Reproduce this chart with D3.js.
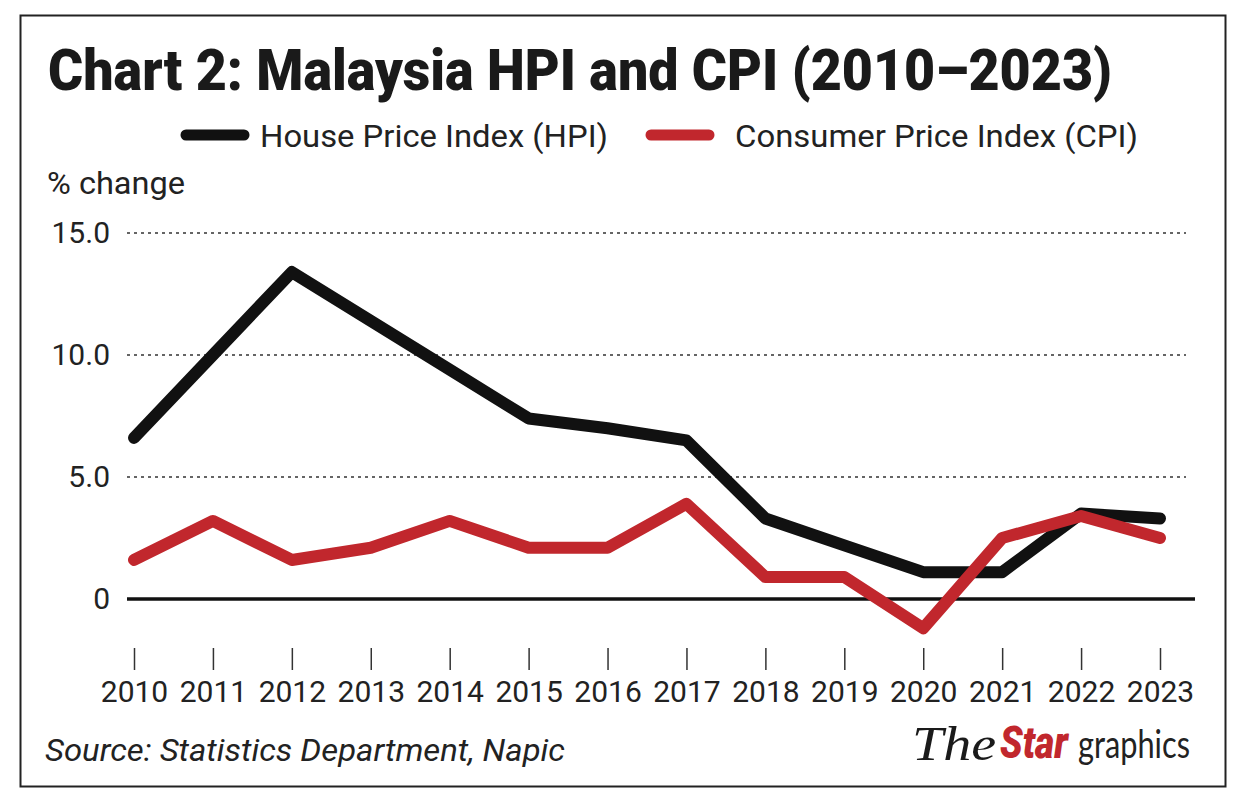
<!DOCTYPE html>
<html>
<head>
<meta charset="utf-8">
<style>
  body { margin: 0; background: #fff; }
  svg { display: block; font-family: Roboto, "Noto Sans", sans-serif; }
  .tick text { fill: #222; }
</style>
<script src="https://d3js.org/d3.v7.min.js"></script>
</head>
<body>
<div id="chart"></div>
<script>
// data (% change)
var years = [2010, 2011, 2012, 2013, 2014, 2015, 2016, 2017, 2018, 2019, 2020, 2021, 2022, 2023];
var hpi = [6.6, 10.0, 13.4, 11.4, 9.4, 7.4, 7.0, 6.5, 3.3, 2.2, 1.1, 1.1, 3.5, 3.3];
var cpi = [1.6, 3.2, 1.6, 2.1, 3.2, 2.1, 2.1, 3.9, 0.9, 0.9, -1.2, 2.5, 3.4, 2.5];
var yTicks = [0, 5, 10, 15];

var W = 1240, H = 801;
var red = "#c1272d", black = "#111";

var svg = d3.select("#chart").append("svg")
    .attr("width", W)
    .attr("height", H);

// frame
svg.append("rect")
    .attr("x", 20.5).attr("y", 15.5)
    .attr("width", 1205).attr("height", 771)
    .attr("fill", "#fff")
    .attr("stroke", "#222")
    .attr("stroke-width", 2);

// title
svg.append("text")
    .attr("x", 48).attr("y", 90)
    .attr("font-size", 58)
    .attr("font-weight", 900)
    .attr("fill", "#1a1a1a")
    .attr("textLength", 1064)
    .attr("lengthAdjust", "spacingAndGlyphs")
    .text("Chart 2: Malaysia HPI and CPI (2010\u20132023)");

// legend
var legend = [
  {name: "House Price Index (HPI)", color: black, x: 186, tx: 74, w: 348},
  {name: "Consumer Price Index (CPI)", color: red, x: 651, tx: 84, w: 403}
];
var lg = svg.selectAll(".legend").data(legend).enter().append("g")
    .attr("class", "legend")
    .attr("transform", function(d) { return "translate(" + d.x + ",135)"; });
lg.append("line")
    .attr("x1", 0).attr("x2", 58)
    .attr("stroke", function(d) { return d.color; })
    .attr("stroke-width", 11)
    .attr("stroke-linecap", "round");
lg.append("text")
    .attr("x", function(d) { return d.tx; })
    .attr("y", 12)
    .attr("font-size", 32)
    .attr("fill", "#222")
    .attr("textLength", function(d) { return d.w; })
    .attr("lengthAdjust", "spacingAndGlyphs")
    .text(function(d) { return d.name; });

svg.append("text")
    .attr("x", 47).attr("y", 194)
    .attr("font-size", 32)
    .attr("fill", "#222")
    .attr("textLength", 138)
    .attr("lengthAdjust", "spacingAndGlyphs")
    .text("% change");

// scales
var x = d3.scaleLinear().domain([2010, 2023]).range([134, 1160]);
var y = d3.scaleLinear().domain([0, 15]).range([599, 233]);

// gridlines
svg.append("g").selectAll("line")
    .data(yTicks.filter(function(d) { return d !== 0; }))
    .enter().append("line")
    .attr("x1", 127).attr("x2", 1186)
    .attr("y1", function(d) { return y(d); })
    .attr("y2", function(d) { return y(d); })
    .attr("stroke", "#333")
    .attr("stroke-width", 1.5)
    .attr("stroke-dasharray", "3,4");

// y axis labels
var yAxis = svg.append("g")
    .attr("transform", "translate(127,0)")
    .call(d3.axisLeft(y)
        .tickValues(yTicks)
        .tickSize(0)
        .tickPadding(17)
        .tickFormat(function(d) { return d === 0 ? "0" : d3.format(".1f")(d); }));
yAxis.select(".domain").remove();
yAxis.selectAll("text").attr("font-size", 30).attr("font-family", "Roboto");

// x axis ticks and labels
var xAxis = svg.append("g")
    .attr("transform", "translate(0,648)")
    .call(d3.axisBottom(x)
        .tickValues(years)
        .tickSize(22)
        .tickPadding(11)
        .tickFormat(d3.format("d")));
xAxis.select(".domain").remove();
xAxis.selectAll("line").attr("stroke", "#333").attr("stroke-width", 1.5);
xAxis.selectAll("text").attr("font-size", 30).attr("font-family", "Roboto");

// zero line
svg.append("line")
    .attr("x1", 127).attr("x2", 1195)
    .attr("y1", y(0)).attr("y2", y(0))
    .attr("stroke", "#111")
    .attr("stroke-width", 3.5);

// series
var line = d3.line()
    .x(function(d) { return x(d[0]); })
    .y(function(d) { return y(d[1]); });

svg.append("path")
    .datum(d3.zip(years, hpi))
    .attr("d", line)
    .attr("fill", "none")
    .attr("stroke", black)
    .attr("stroke-width", 12)
    .attr("stroke-linejoin", "round")
    .attr("stroke-linecap", "round");

svg.append("path")
    .datum(d3.zip(years, cpi))
    .attr("d", line)
    .attr("fill", "none")
    .attr("stroke", red)
    .attr("stroke-width", 12)
    .attr("stroke-linejoin", "round")
    .attr("stroke-linecap", "round");

// source
svg.append("text")
    .attr("x", 45).attr("y", 761)
    .attr("font-size", 32)
    .attr("font-style", "italic")
    .attr("fill", "#222")
    .attr("textLength", 520)
    .attr("lengthAdjust", "spacingAndGlyphs")
    .text("Source: Statistics Department, Napic");

// logo
var logo = svg.append("g");
logo.append("text")
    .attr("x", 912).attr("y", 760)
    .attr("font-family", "'Liberation Serif', serif")
    .attr("font-style", "italic")
    .attr("font-size", 48)
    .attr("fill", "#1a1a1a")
    .attr("textLength", 84)
    .attr("lengthAdjust", "spacingAndGlyphs")
    .text("The");
logo.append("text")
    .attr("x", 1000).attr("y", 758)
    .attr("font-family", "Roboto")
    .attr("font-weight", 900)
    .attr("font-style", "italic")
    .attr("font-size", 44)
    .attr("fill", red)
    .attr("textLength", 68)
    .attr("lengthAdjust", "spacingAndGlyphs")
    .text("Star");
logo.append("text")
    .attr("x", 1078).attr("y", 758)
    .attr("font-family", "Lato")
    .attr("font-size", 39)
    .attr("fill", "#222")
    .attr("textLength", 112)
    .attr("lengthAdjust", "spacingAndGlyphs")
    .text("graphics");
</script>
</body>
</html>
